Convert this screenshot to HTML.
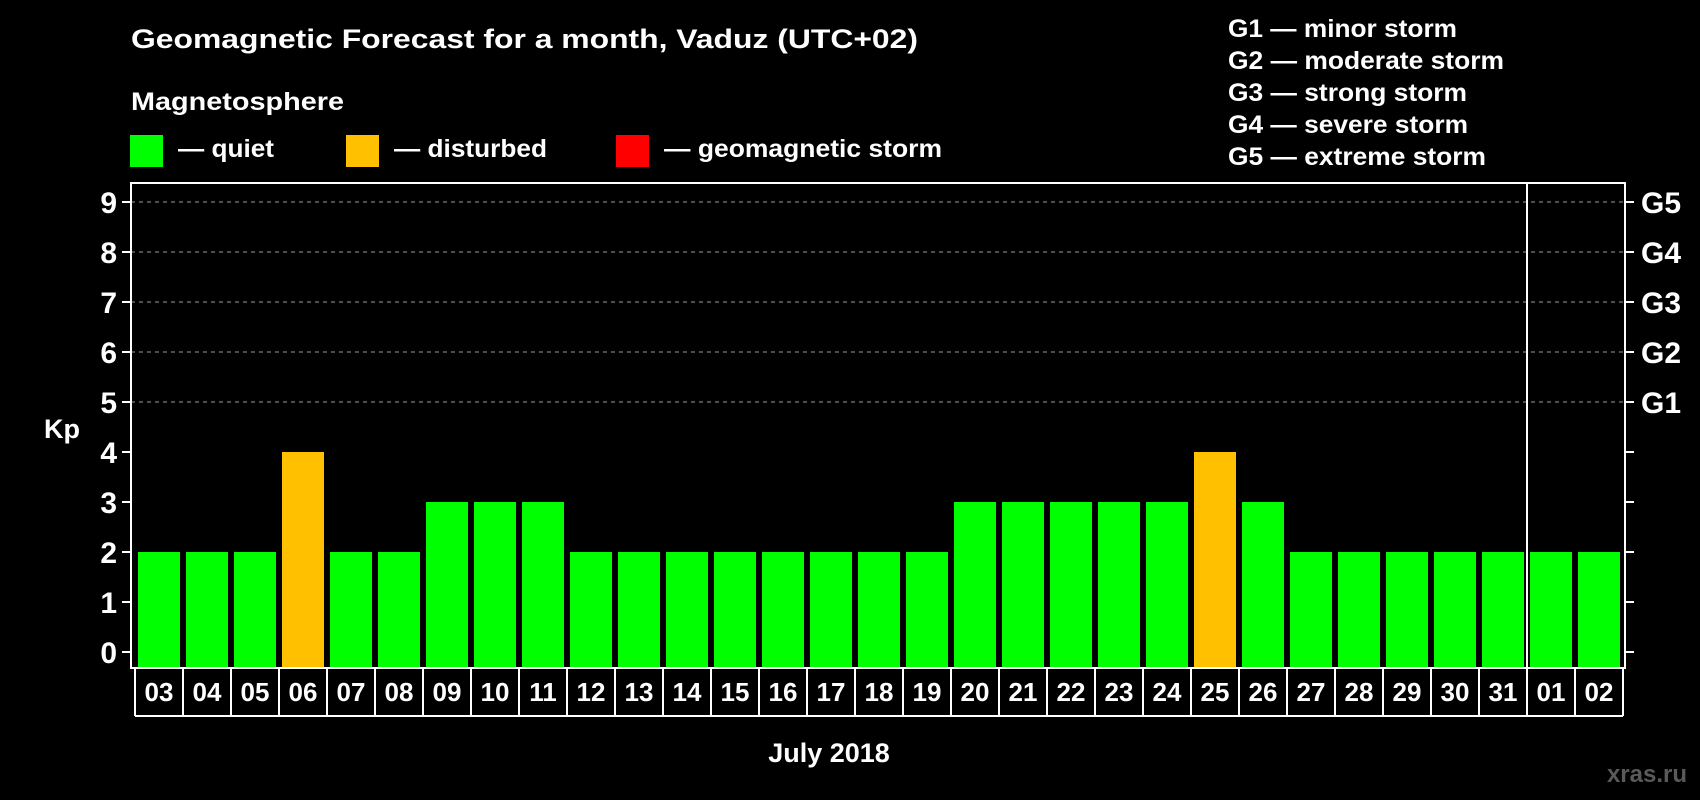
<!DOCTYPE html>
<html><head><meta charset="utf-8"><style>
html,body{margin:0;padding:0;background:#000;}
svg{display:block;font-family:"Liberation Sans",Arial,sans-serif;font-weight:bold;}
</style></head><body>
<svg id="chart" width="1700" height="800" viewBox="0 0 1700 800">
<rect x="0" y="0" width="1700" height="800" fill="#000"/>
<text x="131" y="48" fill="#fff" font-size="27" textLength="787" lengthAdjust="spacingAndGlyphs">Geomagnetic Forecast for a month, Vaduz (UTC+02)</text>
<text x="131" y="110" fill="#fff" font-size="25" textLength="213" lengthAdjust="spacingAndGlyphs">Magnetosphere</text>
<g>
<rect x="130" y="135" width="33" height="32" fill="#00ff00"/>
<text x="178" y="157" fill="#fff" font-size="25" textLength="96" lengthAdjust="spacingAndGlyphs">— quiet</text>
</g>
<g>
<rect x="346" y="135" width="33" height="32" fill="#ffc000"/>
<text x="394" y="157" fill="#fff" font-size="25" textLength="153" lengthAdjust="spacingAndGlyphs">— disturbed</text>
</g>
<g>
<rect x="616" y="135" width="33" height="32" fill="#ff0000"/>
<text x="664" y="157" fill="#fff" font-size="25" textLength="278" lengthAdjust="spacingAndGlyphs">— geomagnetic storm</text>
</g>
<g font-size="25" fill="#fff">
<text x="1228" y="37" textLength="229" lengthAdjust="spacingAndGlyphs">G1 — minor storm</text>
<text x="1228" y="69" textLength="276" lengthAdjust="spacingAndGlyphs">G2 — moderate storm</text>
<text x="1228" y="101" textLength="239" lengthAdjust="spacingAndGlyphs">G3 — strong storm</text>
<text x="1228" y="133" textLength="240" lengthAdjust="spacingAndGlyphs">G4 — severe storm</text>
<text x="1228" y="165" textLength="258" lengthAdjust="spacingAndGlyphs">G5 — extreme storm</text>
</g>
<g id="grid"></g>
<g id="bars"></g>
<g id="axes"></g>
<text x="62" y="438" fill="#fff" font-size="27" text-anchor="middle">Kp</text>
<text x="829" y="762" fill="#fff" font-size="27" text-anchor="middle">July 2018</text>
<text x="1687" y="782" fill="#5a5a5a" font-size="24" text-anchor="end">xras.ru</text>
</svg>
<script>
const days = ["03","04","05","06","07","08","09","10","11","12","13","14","15","16","17","18","19","20","21","22","23","24","25","26","27","28","29","30","31","01","02"];
const kpValues = [2,2,2,4,2,2,3,3,3,2,2,2,2,2,2,2,2,3,3,3,3,3,4,3,2,2,2,2,2,2,2];
const yTicks = [0,1,2,3,4,5,6,7,8,9];
const gLabels = ["G1","G2","G3","G4","G5"];
const gLevels = [5,6,7,8,9];
const monthBreakIndex = 29;

const NS="http://www.w3.org/2000/svg";
const L=131,R=1625,T=183,B=668, X0=135, STEP=48, BW=42, ROWB=716;
const y=v=>652-v*50;
const x=i=>X0+i*STEP;
function mk(tag,attrs,parent){const e=document.createElementNS(NS,tag);for(const k in attrs)e.setAttribute(k,attrs[k]);parent.appendChild(e);return e;}
const grid=document.getElementById('grid'),bars=document.getElementById('bars'),axes=document.getElementById('axes');
gLevels.forEach(v=>{
  const ln=mk('line',{x1:L,x2:R,y1:y(v),y2:y(v),stroke:'#9a9a9a','stroke-width':1,'stroke-dasharray':'4,4'},grid);
  
  
});
kpValues.forEach((v,i)=>{
  const c=v>=5?'#ff0000':(v>=4?'#ffc000':'#00ff00');
  const r=mk('rect',{x:x(i)+3,y:y(v),width:BW,height:B-y(v),fill:c},bars);
  
  
});
const frame=mk('rect',{x:L,y:T,width:R-L,height:B-T,fill:'none',stroke:'#fff','stroke-width':2},axes);


const mb=mk('line',{x1:x(monthBreakIndex),x2:x(monthBreakIndex),y1:T,y2:B,stroke:'#fff','stroke-width':2},axes);


yTicks.forEach(v=>{
  const t=mk('line',{x1:L-9,x2:L,y1:y(v),y2:y(v),stroke:'#fff','stroke-width':2},axes);
  
  
  const t2=mk('line',{x1:R,x2:R+9,y1:y(v),y2:y(v),stroke:'#fff','stroke-width':2},axes);
  
  
  const lb=mk('text',{x:117,y:y(v)+11,fill:'#fff','font-size':30,'text-anchor':'end'},axes);
  lb.textContent=v;
  
  
});
gLabels.forEach((g,i)=>{
  const lb=mk('text',{x:1641,y:y(gLevels[i])+11,fill:'#fff','font-size':30},axes);
  lb.textContent=g;
  
  
});
for(let i=0;i<=days.length;i++){
  const s=mk('line',{x1:x(i),x2:x(i),y1:B,y2:ROWB,stroke:'#fff','stroke-width':2},axes);
  
  
}
const bl=mk('line',{x1:X0,x2:x(days.length),y1:ROWB,y2:ROWB,stroke:'#fff','stroke-width':2},axes);


days.forEach((d,i)=>{
  const t=mk('text',{x:x(i)+STEP/2,y:701,fill:'#fff','font-size':26,'text-anchor':'middle'},axes);
  t.textContent=d;
  
  
});
</script>
</body></html>
